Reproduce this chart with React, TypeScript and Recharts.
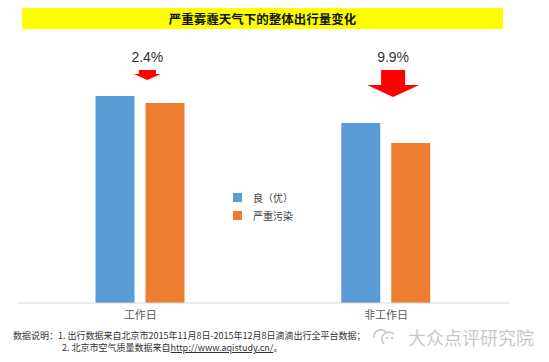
import { BarChart, Bar, XAxis, YAxis, LabelList } from 'recharts';

const categories = ['工作日', '非工作日'];
const goodValues = [100, 87];
const pollutedValues = [96.6, 77.3];
const dropLabels = ['2.4%', '9.9%'];
// arrow sizes: [width, height, shaft width, shaft height]
const arrowSizes = [
  [27, 10, 17, 4],
  [52, 27, 24, 15],
];

const data = categories.map((name, i) => ({
  name,
  good: goodValues[i],
  polluted: pollutedValues[i],
  drop: dropLabels[i],
}));

const BLUE = '#5b9bd5';
const ORANGE = '#ed7d31';
const CJK = '"Noto Sans CJK SC", "Noto Sans", sans-serif';

const DropMarker = (props: any) => {
  const { x, width, index, value } = props;
  const cx = x + width * 1.33;
  const [w, h, sw, sh] = arrowSizes[index];
  const top = 70;
  const pts = [
    [cx - sw / 2, top],
    [cx + sw / 2, top],
    [cx + sw / 2, top + sh],
    [cx + w / 2, top + sh],
    [cx, top + h],
    [cx - w / 2, top + sh],
    [cx - sw / 2, top + sh],
  ]
    .map((p) => p.join(','))
    .join(' ');
  return (
    <g>
      <text x={cx} y={62} textAnchor="middle" fontSize={14} fill="#333"
        fontFamily='"Liberation Sans", Arial, sans-serif'>
        {value}
      </text>
      <polygon points={pts} fill="#ff0000" />
    </g>
  );
};

const LegendBox = () => (
  <div style={{ position: 'absolute', left: 233, top: 188, fontFamily: CJK, fontSize: 10, color: '#404040' }}>
    {[
      { c: BLUE, t: '良（优）' },
      { c: ORANGE, t: '严重污染' },
    ].map((it) => (
      <div key={it.t} style={{ display: 'flex', alignItems: 'center', height: 18 }}>
        <span style={{ width: 9, height: 9, background: it.c, display: 'inline-block', marginRight: 11 }} />
        <span>{it.t}</span>
      </div>
    ))}
  </div>
);

export default function App() {
  return (
    <div style={{ position: 'fixed', left: 0, top: 0, width: 549, height: 362, background: '#fff', overflow: 'hidden' }}>
      <div style={{
        position: 'absolute', left: 22, top: 8, width: 481, height: 21, background: '#ffff00',
        display: 'flex', alignItems: 'center', justifyContent: 'center',
        fontFamily: CJK, fontWeight: 700, fontSize: 12.5, color: '#111',
      }}>
        严重雾霾天气下的整体出行量变化
      </div>
      <div style={{ position: 'absolute', left: 0, top: 0 }}>
        <BarChart width={549} height={362} data={data}
          margin={{ top: 54.6, right: 40, left: 17.5, bottom: 29 }}
          barGap={11} barSize={39}>
          <XAxis dataKey="name" height={30} axisLine={{ stroke: '#d9d9d9' }} tickLine={false}
            tick={{ fontSize: 11, fill: '#595959', fontFamily: CJK }} />
          <YAxis hide domain={[0, 120]} />
          <Bar dataKey="good" fill={BLUE} isAnimationActive={false}>
            <LabelList dataKey="drop" content={DropMarker} />
          </Bar>
          <Bar dataKey="polluted" fill={ORANGE} isAnimationActive={false} />
        </BarChart>
      </div>
      <LegendBox />
      <div style={{ position: 'absolute', left: 13, top: 330, fontFamily: CJK, fontSize: 9, color: '#333', lineHeight: '12px', whiteSpace: 'nowrap' }}>
        <div>数据说明：1. 出行数据来自北京市2015年11月8日-2015年12月8日滴滴出行全平台数据；</div>
        <div style={{ paddingLeft: 49 }}>
          2. 北京市空气质量数据来自<span style={{ textDecoration: 'underline' }}>http://www.aqistudy.cn/</span>。
        </div>
      </div>
      <div style={{ position: 'absolute', left: 370, top: 324, display: 'flex', alignItems: 'center', fontFamily: CJK, fontSize: 18, color: '#c8c8c8' }}>
        <svg width={34} height={22} style={{ marginRight: 4 }}>
          <path d="M4 12 a7 7 0 0 1 12 -6" stroke="#c8c8c8" strokeWidth={1.6} fill="none" />
          <path d="M14 18 a7 7 0 1 1 10 -10" stroke="#c8c8c8" strokeWidth={1.6} fill="none" />
          <circle cx={17} cy={12} r={1.2} fill="#c8c8c8" />
          <circle cx={22} cy={12} r={1.2} fill="#c8c8c8" />
        </svg>
        大众点评研究院
      </div>
    </div>
  );
}
